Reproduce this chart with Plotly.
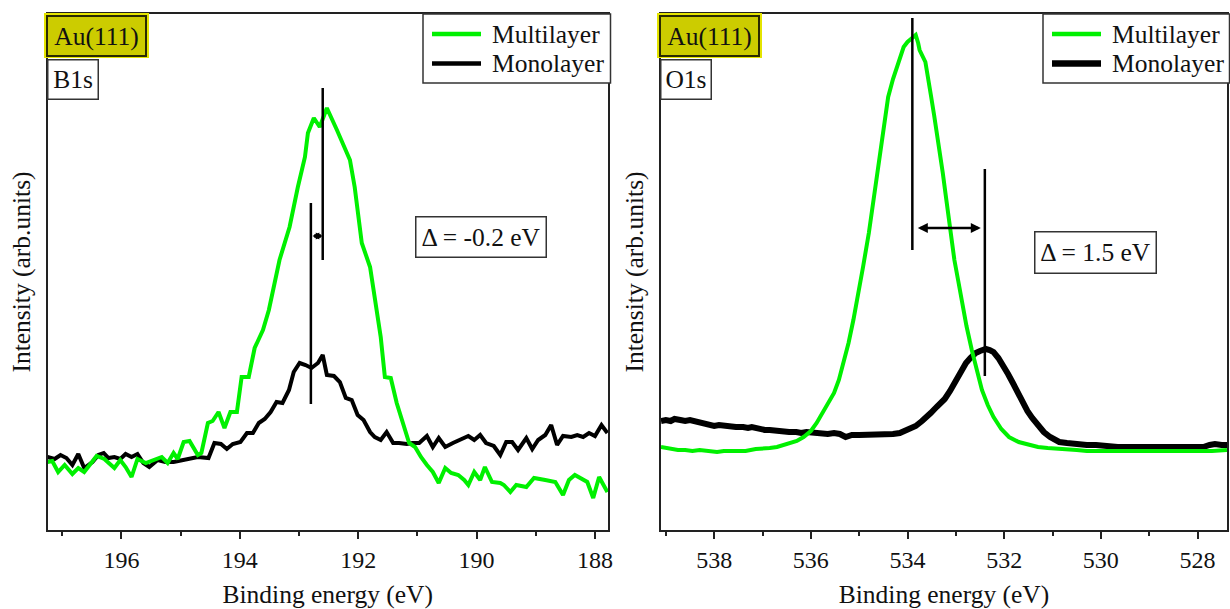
import plotly.graph_objects as go

# ---------------- B1s region (Au(111)) ----------------
b1s_mono_e = [197.25, 197.13, 197.03, 196.93, 196.83, 196.73, 196.63, 196.49, 196.39, 196.30,
              196.22, 196.12, 196.02, 195.93, 195.83, 195.73, 195.63, 195.53, 195.39, 195.26,
              195.12, 194.98, 194.85, 194.71, 194.53, 194.43, 194.32, 194.22, 194.12, 193.99,
              193.88, 193.78, 193.68, 193.58, 193.48, 193.38, 193.28, 193.17, 193.09, 192.99,
              192.89, 192.79, 192.68, 192.60, 192.53, 192.41, 192.31, 192.21, 192.11, 192.01,
              191.91, 191.80, 191.72, 191.62, 191.52, 191.41, 191.31, 191.18, 191.08, 190.97,
              190.84, 190.74, 190.64, 190.53, 190.40, 190.28, 190.14, 190.04, 189.94, 189.84,
              189.71, 189.60, 189.50, 189.40, 189.30, 189.16, 189.06, 188.96, 188.84, 188.74,
              188.64, 188.54, 188.40, 188.30, 188.20, 188.10, 188.00, 187.89, 187.79]
b1s_mono_i = [71, 69, 73, 70, 63, 74, 60, 66, 73, 75,
              70, 71, 69, 74, 71, 74, 65, 61, 68, 66,
              66, 68, 69, 71, 70, 85, 84, 79, 84, 86,
              95, 95, 105, 109, 116, 126, 125, 138, 156, 165,
              163, 160, 165, 173, 153, 152, 146, 130, 128, 113,
              108, 96, 91, 88, 96, 85, 85, 84, 85, 85,
              92, 81, 90, 81, 85, 88, 92, 88, 93, 85,
              82, 73, 86, 86, 78, 90, 79, 88, 93, 103,
              83, 92, 91, 93, 91, 95, 92, 103, 95]

b1s_multi_e = [197.25, 197.17, 197.07, 196.96, 196.83, 196.73, 196.63, 196.52, 196.42, 196.29,
               196.12, 196.02, 195.93, 195.83, 195.73, 195.59, 195.46, 195.32, 195.22, 195.12,
               195.05, 194.95, 194.85, 194.71, 194.65, 194.54, 194.46, 194.36, 194.26, 194.16,
               194.05, 193.97, 193.85, 193.75, 193.61, 193.51, 193.33, 193.16, 193.02, 192.90,
               192.85, 192.75, 192.65, 192.53, 192.36, 192.14, 192.06, 191.94, 191.80, 191.69,
               191.62, 191.55, 191.45, 191.35, 191.25, 191.14, 191.04, 190.94, 190.84, 190.74,
               190.64, 190.53, 190.43, 190.31, 190.21, 190.14, 190.04, 189.94, 189.86, 189.74,
               189.60, 189.54, 189.43, 189.33, 189.16, 189.03, 188.84, 188.67, 188.54, 188.44,
               188.34, 188.20, 188.13, 188.03, 187.93, 187.79]
b1s_multi_i = [66, 67, 56, 63, 54, 60, 56, 65, 72, 69,
               60, 68, 61, 51, 69, 65, 68, 71, 65, 75,
               69, 86, 87, 73, 75, 105, 107, 116, 100, 116,
               116, 151, 151, 180, 198, 218, 268, 301, 341, 371,
               395, 410, 401, 420, 398, 368, 341, 285, 261, 215,
               191, 151, 150, 125, 105, 85, 81, 71, 63, 56,
               45, 60, 55, 53, 48, 43, 56, 48, 61, 46,
               45, 43, 36, 43, 41, 50, 48, 46, 33, 48,
               53, 48, 46, 30, 51, 36]

b1s_peak_multi = 192.6
b1s_peak_mono = 192.8

# ---------------- O1s region (Au(111)) ----------------
o1s_mono_e = [539.10, 539.00, 538.90, 538.82, 538.70, 538.60, 538.50, 538.42, 538.30, 538.20,
              538.10, 538.00, 537.90, 537.80, 537.69, 537.55, 537.40, 537.30, 537.22, 537.10,
              536.95, 536.85, 536.73, 536.60, 536.45, 536.30, 536.20, 536.09, 535.95, 535.80,
              535.65, 535.52, 535.40, 535.28, 535.15, 535.00, 534.85, 534.72, 534.60, 534.45,
              534.30, 534.16, 534.05, 533.95, 533.83, 533.70, 533.60, 533.52, 533.40, 533.30,
              533.23, 533.12, 533.03, 532.92, 532.79, 532.70, 532.59, 532.50, 532.38, 532.30,
              532.22, 532.12, 532.02, 531.92, 531.82, 531.72, 531.62, 531.52, 531.42, 531.30,
              531.18, 531.05, 530.95, 530.86, 530.70, 530.55, 530.40, 530.29, 530.10, 529.95,
              529.80, 529.65, 529.48, 529.30, 529.10, 528.95, 528.80, 528.68, 528.50, 528.35,
              528.20, 528.05, 527.88, 527.75, 527.64, 527.50, 527.39]
o1s_mono_i = [108, 109, 108, 110, 109, 108, 109, 108, 106, 104,
              103, 103, 104, 103, 103, 102, 102, 101, 102, 100,
              99, 99, 98, 98, 97, 97, 96, 97, 96, 96,
              95, 96, 95, 92, 94, 94, 94, 95, 94, 95,
              95, 96, 98, 100, 103, 108, 112, 116, 122, 126,
              130, 138, 146, 156, 166, 171, 176, 178, 180, 179,
              177, 171, 164, 155, 146, 136, 127, 118, 111, 103,
              97, 92, 89, 87, 86, 85, 85, 84, 84, 83,
              83, 82, 82, 82, 81, 82, 81, 82, 82, 81,
              82, 81, 82, 84, 85, 84, 84]

o1s_multi_e = [539.10, 539.00, 538.90, 538.75, 538.60, 538.45, 538.30, 538.15, 537.94, 537.80,
               537.65, 537.50, 537.35, 537.14, 537.00, 536.85, 536.70, 536.57, 536.45, 536.29,
               536.15, 536.00, 535.88, 535.76, 535.64, 535.52, 535.42, 535.32, 535.22, 535.12,
               535.04, 534.92, 534.80, 534.70, 534.60, 534.50, 534.40, 534.30, 534.23, 534.15,
               534.08, 534.00, 533.95, 533.88, 533.83, 533.78, 533.75, 533.63, 533.57, 533.51,
               533.45, 533.39, 533.33, 533.27, 533.21, 533.15, 533.09, 533.03, 532.95, 532.88,
               532.78, 532.67, 532.56, 532.46, 532.34, 532.22, 532.06, 531.90, 531.70, 531.50,
               531.30, 531.10, 530.90, 530.70, 530.50, 530.29, 530.00, 529.70, 529.40, 529.09,
               528.80, 528.50, 528.29, 528.00, 527.70, 527.39]
o1s_multi_i = [82, 81, 80, 79, 79, 78, 79, 78, 77, 78,
               78, 77, 78, 80, 80, 81, 82, 84, 86, 88,
               92, 98, 106, 116, 125, 136, 149, 166, 186, 209,
               229, 262, 296, 329, 362, 400, 432, 450, 461, 472,
               482, 487, 489, 493, 494, 486, 479, 467, 452, 432,
               414, 396, 376, 356, 334, 312, 290, 269, 248, 229,
               203, 179, 158, 139, 124, 112, 100, 92, 87, 84,
               82, 81, 80, 79, 79, 78, 78, 77, 78, 77,
               77, 78, 77, 77, 78, 79]

o1s_peak_multi = 533.9
o1s_peak_mono = 532.4

x_ticks_b1s = [196, 194, 192, 190, 188]
x_ticks_o1s = [538, 536, 534, 532, 530, 528]
series_names = ["Multilayer", "Monolayer"]

# ---------------- styling ----------------
W, H = 1230, 609
FONT = "Liberation Serif, Times New Roman, Times, serif"
GREEN = "#00f000"
BLACK = "#000000"
FRAME = "#222222"
AU_FILL = "#cccc00"


def px(x):
    return x / W


def py(y):
    return (H - y) / H


fig = go.Figure()

panels = [
    dict(xa="x", ya="y", mono=(b1s_mono_e, b1s_mono_i),
         multi=(b1s_multi_e, b1s_multi_i), mono_w=4, multi_w=4),
    dict(xa="x2", ya="y2", mono=(o1s_mono_e, o1s_mono_i),
         multi=(o1s_multi_e, o1s_multi_i), mono_w=6, multi_w=4),
]
for p in panels:
    fig.add_trace(go.Scatter(x=p["mono"][0], y=p["mono"][1], mode="lines", name=series_names[1],
                             line=dict(color=BLACK, width=p["mono_w"]), showlegend=False,
                             xaxis=p["xa"], yaxis=p["ya"]))
    fig.add_trace(go.Scatter(x=p["multi"][0], y=p["multi"][1], mode="lines", name=series_names[0],
                             line=dict(color=GREEN, width=p["multi_w"]), showlegend=False,
                             xaxis=p["xa"], yaxis=p["ya"]))

ydom = [py(530), py(14)]
xdom1 = [px(47.5), px(608)]
xdom2 = [px(661), px(1227)]
xr1 = [197.25, 187.78]
xr2 = [539.10, 527.39]

tickfont = dict(family=FONT, size=24, color="#111")
titlefont = dict(family=FONT, size=25.5, color="#111")


def xaxis(dom, rng, tickvals, anchor):
    return dict(domain=dom, range=rng, anchor=anchor, showline=True, mirror=True,
                linecolor=FRAME, linewidth=1.5, ticks="outside", ticklen=7, tickwidth=1.5,
                tickcolor=FRAME, tickvals=tickvals, ticktext=[str(v) for v in tickvals],
                minor=dict(ticks="outside", ticklen=4, tickwidth=1.5, tickcolor=FRAME, dtick=1),
                tickfont=tickfont, showgrid=False, zeroline=False,
                title=dict(text="Binding energy (eV)", font=titlefont, standoff=14))


def xaxis_inner(rng, tickvals, over, anchor):
    return dict(overlaying=over, anchor=anchor, range=rng, showline=False, ticks="inside",
                ticklen=7, tickwidth=1.5, tickcolor=FRAME, tickvals=tickvals,
                minor=dict(ticks="inside", ticklen=4, tickwidth=1.5, tickcolor=FRAME, dtick=1),
                showticklabels=False, showgrid=False, zeroline=False)


def yaxis(rng, anchor):
    return dict(domain=ydom, range=rng, anchor=anchor, showline=True, mirror=True,
                linecolor=FRAME, linewidth=1.5, ticks="", showticklabels=False,
                showgrid=False, zeroline=False,
                title=dict(text="Intensity (arb.units)", font=titlefont, standoff=8))


fig.update_layout(
    width=W, height=H, margin=dict(l=0, r=0, t=0, b=0, autoexpand=False),
    paper_bgcolor="white", plot_bgcolor="white", showlegend=False,
    xaxis=xaxis(xdom1, xr1, x_ticks_b1s, "y"),
    yaxis=yaxis([-2, 514], "x"),
    xaxis2=xaxis(xdom2, xr2, x_ticks_o1s, "y2"),
    yaxis2=yaxis([-1, 515], "x2"),
    xaxis3=xaxis_inner(xr1, x_ticks_b1s, "x", "y"),
    xaxis4=xaxis_inner(xr2, x_ticks_o1s, "x2", "y2"),
)

# Peak position markers
fig.add_shape(type="line", xref="x", yref="y", x0=b1s_peak_multi, x1=b1s_peak_multi,
              y0=268, y1=440, line=dict(color=BLACK, width=2.5))
fig.add_shape(type="line", xref="x", yref="y", x0=b1s_peak_mono, x1=b1s_peak_mono,
              y0=124, y1=325, line=dict(color=BLACK, width=2.5))
fig.add_shape(type="line", xref="x2", yref="y2", x0=o1s_peak_multi, x1=o1s_peak_multi,
              y0=279, y1=511, line=dict(color=BLACK, width=2.5))
fig.add_shape(type="line", xref="x2", yref="y2", x0=o1s_peak_mono, x1=o1s_peak_mono,
              y0=153, y1=360, line=dict(color=BLACK, width=2.5))

# Shift arrows between the peak markers
fig.add_annotation(xref="x", yref="y", axref="x", ayref="y", x=b1s_peak_multi, y=292,
                   ax=b1s_peak_mono, ay=292, text="", showarrow=True, arrowside="end+start",
                   arrowhead=2, arrowsize=0.4, arrowwidth=3.5, arrowcolor=BLACK,
                   standoff=0, startstandoff=0)
fig.add_annotation(xref="x2", yref="y2", axref="x2", ayref="y2", x=o1s_peak_mono, y=301,
                   ax=o1s_peak_multi, ay=301, text="", showarrow=True, arrowside="end+start",
                   arrowhead=2, arrowsize=0.8, arrowwidth=2.5, arrowcolor=BLACK,
                   standoff=4, startstandoff=4)

label_font = dict(family=FONT, size=25.5, color="#111")

# Legend boxes (one per panel), drawn over the frame
legend_boxes = [(423, 610.5, 4), (1043, 1229.5, 6)]
for x0, x1, mono_w in legend_boxes:
    fig.add_shape(type="rect", xref="paper", yref="paper", x0=px(x0), x1=px(x1),
                  y0=py(83), y1=py(14), fillcolor="white", layer="above",
                  line=dict(color="#333", width=1.5))
    for row_y, name, color, lw in [(34, series_names[0], GREEN, 4.5),
                                   (63.5, series_names[1], BLACK, mono_w + 0.5)]:
        fig.add_shape(type="line", xref="paper", yref="paper", x0=px(x0 + 9), x1=px(x0 + 58),
                      y0=py(row_y), y1=py(row_y), layer="above", line=dict(color=color, width=lw))
        fig.add_annotation(xref="paper", yref="paper", x=px(x0 + 67), y=py(row_y), xanchor="left",
                           yanchor="middle", text=name, showarrow=False, font=label_font)

# Substrate / core-level tags
for x_left, core in [(45, "B1s"), (658, "O1s")]:
    fig.add_shape(type="rect", xref="paper", yref="paper", x0=px(x_left - 1), x1=px(x_left + 104),
                  y0=py(58), y1=py(13), fillcolor="#e4e400", layer="above",
                  line=dict(width=0))
    fig.add_annotation(xref="paper", yref="paper", x=px(x_left + 1), y=py(15), xanchor="left",
                       yanchor="top", text="Au(111)", showarrow=False, font=label_font,
                       bgcolor=AU_FILL, bordercolor="#2a2a00", borderwidth=2, borderpad=0,
                       width=97, height=38)
    fig.add_annotation(xref="paper", yref="paper", x=px(x_left + 2), y=py(58.5), xanchor="left",
                       yanchor="top", text=core, showarrow=False, font=label_font,
                       bgcolor="white", bordercolor="#333", borderwidth=1.5, borderpad=0,
                       width=49, height=38)

# Shift labels
fig.add_annotation(xref="paper", yref="paper", x=px(481), y=py(237), xanchor="center",
                   yanchor="middle", text="Δ = -0.2 eV", showarrow=False, font=label_font,
                   bgcolor="white", bordercolor="#333", borderwidth=1.5, borderpad=0,
                   width=129, height=39)
fig.add_annotation(xref="paper", yref="paper", x=px(1095.5), y=py(252.5), xanchor="center",
                   yanchor="middle", text="Δ = 1.5 eV", showarrow=False, font=label_font,
                   bgcolor="white", bordercolor="#333", borderwidth=1.5, borderpad=0,
                   width=120, height=40)

fig.write_html("out.html")
